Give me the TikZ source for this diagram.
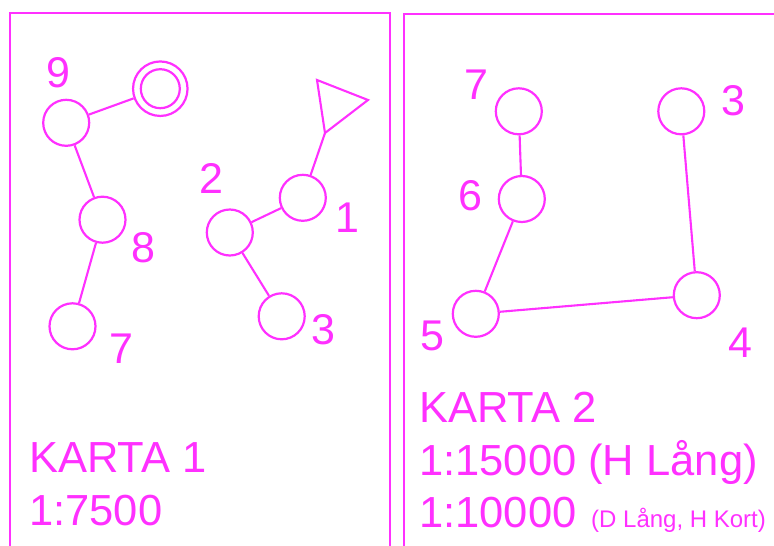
\documentclass[tikz,border=0pt]{standalone}
\usepackage{fontspec}
\setmainfont{Liberation Sans}
\definecolor{mag}{RGB}{255,48,255}
\tikzset{
  ctrl/.style={circle, draw=mag, line width=2.2pt, minimum size=46pt, inner sep=0pt},
  link/.style={draw=mag, line width=2.1pt},
  frame/.style={draw=mag, line width=2.6pt},
  num/.style={text=mag, font=\fontsize{43}{45}\selectfont, anchor=base, inner sep=0pt},
  title/.style={text=mag, font=\fontsize{43.5}{45}\selectfont, anchor=base west, inner sep=0pt},
  small/.style={text=mag, font=\fontsize{24}{26}\selectfont, anchor=base west, inner sep=0pt}
}
\begin{document}
\begin{tikzpicture}[x=1pt,y=-1pt]
\useasboundingbox (0,0) rectangle (774,546);
% frames
\draw[frame] (10,560) -- (10,13) -- (390,13) -- (390,560);
\draw[frame] (404,560) -- (404,14) -- (790,14);
% ---- KARTA 1 ----
\node[ctrl, minimum size=54.5pt] (s) at (160.3,88.7) {};
\node[ctrl, minimum size=39pt] (sin) at (160.3,88.7) {};
\node[ctrl] (a9) at (66.2,122.8) {};
\node[ctrl] (a8) at (102.5,219.7) {};
\node[ctrl] (a7) at (72.5,326.3) {};
\node[ctrl] (a1) at (302.8,197.8) {};
\node[ctrl] (a2) at (229.8,232.5) {};
\node[ctrl] (a3) at (281.7,316.3) {};
\coordinate (t1) at (317,80);
\coordinate (t2) at (368,100);
\coordinate (f) at (325,133);
\draw[link, line join=miter] (t1) -- (t2) -- (f) -- cycle;
\draw[link] (a9) -- (s);
\draw[link] (a9) -- (a8);
\draw[link] (a8) -- (a7);
\draw[link] (f) -- (a1);
\draw[link] (a2) -- (a1);
\draw[link] (a2) -- (a3);
\node[num] (l9) at (58,87) {9};
\node[num] (l8) at (143,262) {8};
\node[num] (l7) at (121,363) {7};
\node[num] (l2) at (211,193) {2};
\node[num] (l1) at (347,232) {1};
\node[num] (l3) at (323,344) {3};
\node[title] (k1) at (29,472) {KARTA 1};
\node[title] (k1s) at (29,525) {1:7500};
% ---- KARTA 2 ----
\node[ctrl] (b7) at (518.8,111.3) {};
\node[ctrl] (b6) at (521.8,199) {};
\node[ctrl] (b3) at (681.3,111.3) {};
\node[ctrl] (b4) at (696.8,295.2) {};
\node[ctrl] (b5) at (475.8,313.8) {};
\draw[link] (b7) -- (b6);
\draw[link] (b6) -- (b5);
\draw[link] (b5) -- (b4);
\draw[link] (b3) -- (b4);
\node[num] (m7) at (476,99) {7};
\node[num] (m6) at (470,210) {6};
\node[num] (m3) at (733,115) {3};
\node[num] (m5) at (432,350) {5};
\node[num] (m4) at (740,357) {4};
\node[title] (k2) at (419,422) {KARTA 2};
\node[title] (k2a) at (419,475) {1:15000 (H Lång)};
\node[title] (k2b) at (419,527) {1:10000};
\node[small] (k2c) at (591,527) {(D Lång, H Kort)};
\end{tikzpicture}
\end{document}
